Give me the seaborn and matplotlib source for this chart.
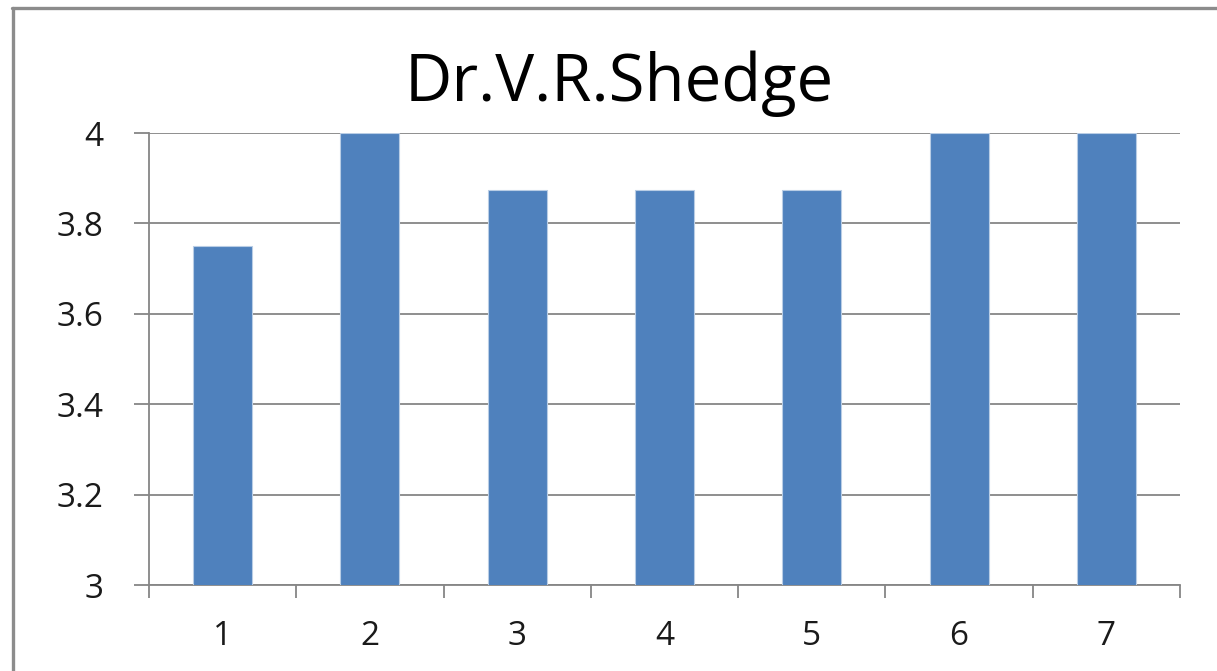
import matplotlib
matplotlib.use("Agg")
import matplotlib.pyplot as plt
from matplotlib.lines import Line2D
from matplotlib.ticker import FixedLocator
import seaborn as sns
import pandas as pd

categories = ["1", "2", "3", "4", "5", "6", "7"]
values = [3.75, 4.0, 3.875, 3.875, 3.875, 4.0, 4.0]
y_ticks = [3.0, 3.2, 3.4, 3.6, 3.8, 4.0]
y_tick_labels = ["3", "3.2", "3.4", "3.6", "3.8", "4"]
title = "Dr.V.R.Shedge"

sns.set_theme(style="white")
plt.rcParams["font.family"] = ["Open Sans", "DejaVu Sans"]

df = pd.DataFrame({"cat": categories, "val": values})

fig = plt.figure(figsize=(12.17, 6.71), dpi=100)
ax = fig.add_axes([149 / 1217, 86 / 671, 1031 / 1217, 452 / 671])

sns.barplot(data=df, x="cat", y="val", color="#4F81BD", saturation=1,
            width=0.4, edgecolor="#B9CDE5", linewidth=0.8, ax=ax, zorder=3)

grid_c = "#868686"
ax.set_ylim(y_ticks[0], y_ticks[-1])
ax.set_xlim(-0.5, len(categories) - 0.5)
ax.yaxis.set_major_locator(FixedLocator(y_ticks))
ax.set_yticklabels(y_tick_labels)
ax.yaxis.grid(True, color=grid_c, linewidth=1.3, zorder=0)
ax.set_axisbelow(True)
ax.set_xlabel("")
ax.set_ylabel("")

for s in ["top", "right"]:
    ax.spines[s].set_visible(False)
for s in ["left", "bottom"]:
    ax.spines[s].set_color(grid_c)
    ax.spines[s].set_linewidth(1.3)

ax.xaxis.set_minor_locator(FixedLocator([i - 0.5 for i in range(len(categories) + 1)]))
ax.tick_params(axis="x", which="major", length=0, pad=25, labelsize=24, labelcolor="#1a1a1a")
ax.tick_params(axis="x", which="minor", length=9, width=1.3, color=grid_c, direction="out", bottom=True)
ax.tick_params(axis="y", which="major", length=11, width=1.3, color=grid_c, direction="out",
               left=True, pad=22, labelsize=24, labelcolor="#1a1a1a")

fig.text(619 / 1217, (671 - 101) / 671, title, ha="center", va="baseline",
         fontsize=47, color="#000000")

frame_c = "#8c8c8c"
fig.add_artist(Line2D([13 / 1217, 13 / 1217], [0, (671 - 8) / 671], color=frame_c,
                      linewidth=2.4, transform=fig.transFigure))
fig.add_artist(Line2D([12 / 1217, 1], [(671 - 8) / 671, (671 - 8) / 671], color=frame_c,
                      linewidth=2.4, transform=fig.transFigure))

fig.savefig("out.png", dpi=100)
